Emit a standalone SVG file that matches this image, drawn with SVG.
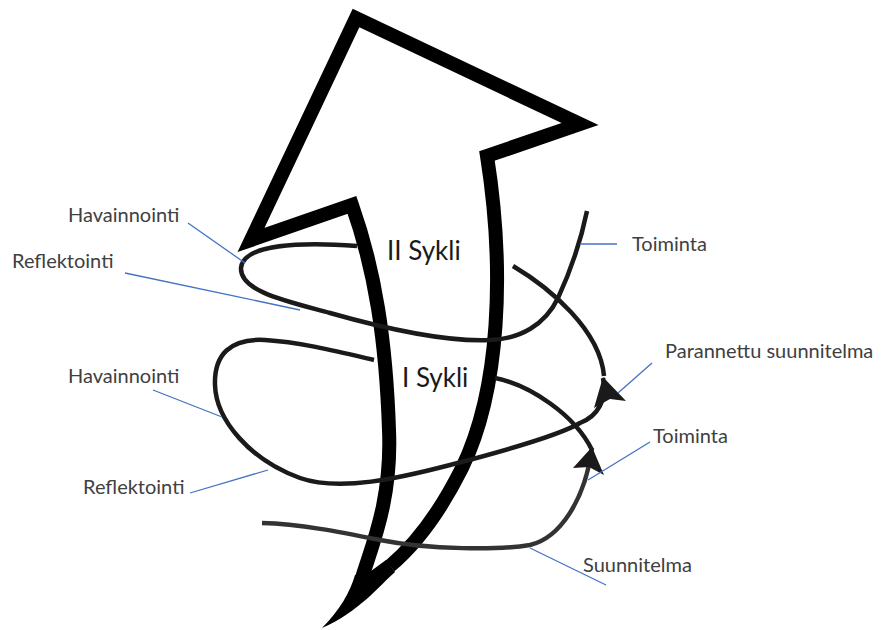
<svg xmlns="http://www.w3.org/2000/svg" width="883" height="630" viewBox="0 0 883 630">
<style>
.big{fill:none;stroke:#000;stroke-width:14;stroke-linejoin:miter;stroke-miterlimit:4}
.c{fill:none;stroke:#1a1a1a;stroke-width:4.5}
.c2{fill:none;stroke:#333;stroke-width:4.5}
.lead{fill:none;stroke:#4472c4;stroke-width:1.3}
.lbl{font-family:Lato,"Liberation Sans",sans-serif;font-size:20px;fill:#404040}
.cyc{font-family:Lato,"Liberation Sans",sans-serif;font-size:26px;fill:#1a1a1a}
.ah{fill:#1a1a1a}
</style>
<rect width="883" height="630" fill="#fff"/>
<g id="arrow">
<path class="big" d="M362,578 C372,545 392,500 389,430 C386,340 375,270 352,205 L251,240 L356,18 L580,124 L487,156 C505,270 500,390 462,468 C440,512 415,545 390,566"/>
<path fill="#000" d="M371,571 L386,560 L395,572 C381,584 358,613 322,628 C340,610 350,592 355,575 Z"/>
</g>
<g id="connectors">
<path id="loop2" class="c" d="M357,246 C300,242 243,244 241,268 C240,292 290,302 330,313 C390,330 450,342 490,340 C520,339 545,325 558,298 C570,272 580,245 587,211"/>
<path id="toParannettu" class="c" d="M513,266 C550,288 600,330 604,376"/>
<path id="loop1" class="c" d="M374,360 C340,352 300,342 265,340 C230,338 214,355 215,385 C216,420 250,460 300,478 C340,492 400,478 450,465 C500,452 560,435 580,423 C598,416 607,400 603,378"/>
<path class="ah" d="M603,377 L626,401 L610,399 L594,408 Z"/>
<path id="toToiminta" class="c" d="M495,378 C530,385 575,415 592,450"/>
<path id="suunnitelma" class="c2" d="M262,523 C300,524 340,532 380,540 C430,550 500,550 530,545 C560,538 585,500 592,448"/>
<path class="ah" fill="#2a2a2a" d="M592,447 L604,475 L589,467 L573,468 Z"/>
</g>
<g id="leaders">
<line class="lead" x1="188" y1="223" x2="245" y2="263"/>
<line class="lead" x1="125" y1="273" x2="300" y2="310"/>
<line class="lead" x1="153" y1="390" x2="222" y2="417"/>
<line class="lead" x1="190" y1="493" x2="268" y2="470"/>
<line class="lead" x1="580" y1="244" x2="617" y2="244"/>
<line class="lead" x1="652" y1="363" x2="618" y2="393"/>
<line class="lead" x1="650" y1="442" x2="588" y2="480"/>
<line class="lead" x1="530" y1="548" x2="606" y2="585"/>
</g>
<g id="labels">
<text class="cyc" x="387" y="260">II Sykli</text>
<text class="cyc" x="402" y="387">I Sykli</text>
<text class="lbl" x="68" y="222">Havainnointi</text>
<text class="lbl" x="12" y="268">Reflektointi</text>
<text class="lbl" x="68" y="383">Havainnointi</text>
<text class="lbl" x="83" y="494">Reflektointi</text>
<text class="lbl" x="632" y="251">Toiminta</text>
<text class="lbl" x="665" y="358">Parannettu suunnitelma</text>
<text class="lbl" x="653" y="443">Toiminta</text>
<text class="lbl" x="583" y="572">Suunnitelma</text>
</g>
</svg>
